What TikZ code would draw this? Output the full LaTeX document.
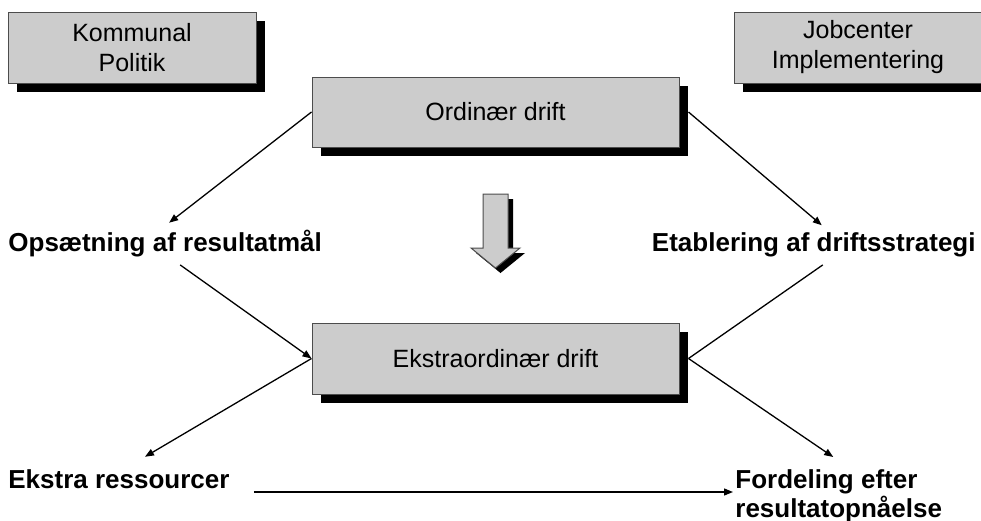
\documentclass[tikz,border=0pt]{standalone}
\usepackage{fontspec}
\setmainfont{Liberation Sans}
\usetikzlibrary{arrows.meta,shadows}

\tikzset{
	box/.style={draw=black!70, fill=black!20, line width=0.5pt, align=center,
		font=\fontsize{12.5}{15}\selectfont,
		drop shadow={shadow xshift=4.5pt, shadow yshift=-4.5pt, fill=black, opacity=1}},
	lbl/.style={inner sep=0pt, font=\fontsize{13}{13}\selectfont\bfseries},
	conn/.style={line width=0.65pt, -{Triangle[length=4.5pt,width=3.5pt]}},
	plain/.style={line width=0.65pt}
}

\begin{document}
\begin{tikzpicture}[x=0.5pt,y=-0.5pt]
	
	\useasboundingbox (0,0) rectangle (981,520);
	
	% boxes
	\node[box, minimum width=124pt, minimum height=35.5pt] (kp) at (132,47.5) {Kommunal\\Politik};
	\node[box, minimum width=124pt, minimum height=35.5pt] (jc) at (858,47.5) {Jobcenter\\Implementering};
	\node[box, minimum width=183.5pt, minimum height=35pt] (od) at (495.5,112) {Ordinær drift};
	\node[box, minimum width=183.5pt, minimum height=35.5pt] (ed) at (495.5,358.5) {Ekstraordinær drift};
	
	% labels
	\node[lbl, anchor=base west] (op) at (8,251) {Opsætning af resultatmål};
	\node[lbl, anchor=base east] (et) at (976,251) {Etablering af driftsstrategi};
	\node[lbl, anchor=base west] (er) at (8,488) {Ekstra ressourcer};
	\node[lbl, anchor=north west, align=left] (fo) at (735,469) {Fordeling efter\\resultatopnåelse};
	
	% down arrow
	\begin{scope}[shift={(5,5)}]
		\fill[black] (483,194) -- (508,194) -- (508,248) -- (520,248) -- (495.5,268) -- (471,248) -- (483,248) -- cycle;
	\end{scope}
	\filldraw[fill=black!20, draw=black!70, line width=0.5pt] (483,194) -- (508,194) -- (508,248) -- (520,248) -- (495.5,268) -- (471,248) -- (483,248) -- cycle;
	
	% connectors
	\draw[conn] (od.west) -- ([xshift=2pt,yshift=3.25pt]op.north);
	\draw[conn] ([xshift=4.5pt]od.east) -- ([xshift=4pt,yshift=3.25pt]et.north);
	\draw[conn] ([xshift=7.5pt,yshift=-4pt]op.south) -- (ed.west);
	\draw[plain] ([xshift=4.5pt,yshift=-4pt]et.south) -- ([xshift=4.5pt]ed.east);
	\draw[conn] (ed.west) -- ([xshift=13pt,yshift=6pt]er.north);
	\draw[conn] ([xshift=4.5pt]ed.east) -- ([xshift=-2.75pt,yshift=6pt]fo.north);
	\draw[conn, shorten >=1pt] ([xshift=12pt,yshift=-2pt]er.base east) coordinate (h) -- (h -| fo.west);
	
\end{tikzpicture}
\end{document}
